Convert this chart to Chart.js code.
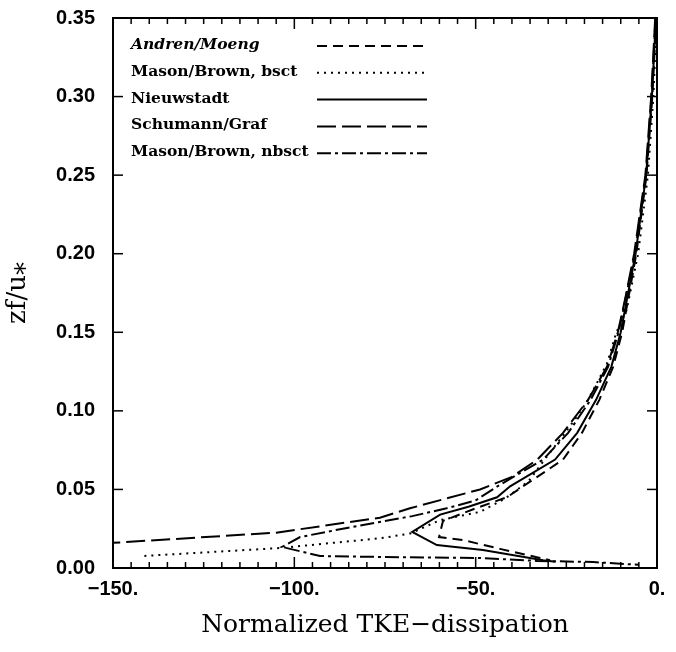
<!DOCTYPE html>
<html>
<head>
<meta charset="utf-8">
<script src="https://cdn.jsdelivr.net/npm/chart.js@4/dist/chart.umd.min.js"></script>
<style>
  html, body { margin: 0; padding: 0; background: #fff; }
  #c { display: block; }
</style>
</head>
<body>
<canvas id="c" width="676" height="652"></canvas>
<script>
// ---- data (x = normalized TKE-dissipation, y = zf/u*) ----
const seriesLabels = ['Andren/Moeng', 'Mason/Brown, bsct', 'Nieuwstadt', 'Schumann/Graf', 'Mason/Brown, nbsct'];

const andrenX = [-0.2, -1.3, -2.9, -5.7, -9.6, -12.1, -15.9, -20.7, -25.9, -36.9, -41.4, -50, -59, -60.1, -53.5, -43, -32.3, -29.5];
const andrenY = [0.35, 0.30, 0.25, 0.20, 0.15, 0.128, 0.107, 0.086, 0.069, 0.052, 0.045, 0.038, 0.030, 0.0197, 0.0178, 0.012, 0.0064, 0.005];

const masonBsctX = [-0.1, -1.0, -2.5, -5.2, -8.4, -11.2, -13.8, -19.0, -22.5, -26, -31, -35.5, -42, -48.8, -59.8, -68, -76, -104, -142];
const masonBsctY = [0.35, 0.30, 0.25, 0.20, 0.164, 0.15, 0.13, 0.107, 0.095, 0.084, 0.069, 0.055, 0.044, 0.0357, 0.0305, 0.022, 0.019, 0.0127, 0.0076];

const nieuwX = [-0.3, -1.4, -3.0, -5.9, -10.0, -12.6, -16.8, -22.0, -28.1, -40.5, -44.1, -52, -59.8, -67.5, -60.7, -48, -31.4, -28];
const nieuwY = [0.35, 0.30, 0.25, 0.20, 0.15, 0.128, 0.107, 0.086, 0.069, 0.052, 0.045, 0.039, 0.034, 0.023, 0.0146, 0.0115, 0.005, 0.004];

const schumX = [-0.5, -1.6, -3.2, -6.3, -8.8, -10.8, -13.8, -19.0, -25.9, -33, -40, -48.8, -68.1, -76.4, -105, -150];
const schumY = [0.35, 0.30, 0.25, 0.20, 0.171, 0.15, 0.128, 0.107, 0.086, 0.069, 0.058, 0.050, 0.038, 0.032, 0.0225, 0.016];

const masonNbsctX = [-0.4, -1.5, -3.1, -6.1, -10.6, -13.5, -18.3, -24.5, -31.4, -44, -50, -58, -67.5, -85.5, -98.4, -103.4, -92.9, -70, -48.8, -33, -17.6, -5];
const masonNbsctY = [0.35, 0.30, 0.25, 0.20, 0.15, 0.128, 0.107, 0.086, 0.069, 0.052, 0.043, 0.038, 0.033, 0.0255, 0.0197, 0.0134, 0.0076, 0.0068, 0.0064, 0.0045, 0.0038, 0.002];

const xTickValues = [-150, -100, -50, 0];
const xTickLabels = ['\u2212150.', '\u2212100.', '\u221250.', '0.'];
const yTickValues = [0, 0.05, 0.10, 0.15, 0.20, 0.25, 0.30, 0.35];
const yTickLabels = ['0.00', '0.05', '0.10', '0.15', '0.20', '0.25', '0.30', '0.35'];
const xTitle = 'Normalized TKE\u2212dissipation';
const yTitle = 'zf/u\u204E';

// ---- build datasets ----
const pts = (xs, ys) => xs.map((x, i) => ({ x: x, y: ys[i] }));
const dashes = [[10, 6], [2, 5], [], [19, 6], [14, 4, 3, 4]];
const seriesData = [
  pts(andrenX, andrenY),
  pts(masonBsctX, masonBsctY),
  pts(nieuwX, nieuwY),
  pts(schumX, schumY),
  pts(masonNbsctX, masonNbsctY)
];
const datasets = seriesData.map((d, i) => ({
  label: seriesLabels[i],
  data: d,
  showLine: true,
  borderColor: '#000',
  backgroundColor: '#000',
  borderWidth: 2,
  borderDash: dashes[i],
  pointRadius: 0,
  tension: 0,
  fill: false
}));

// ---- frame, inward ticks and in-plot legend ----
const framePlugin = {
  id: 'frame',
  afterDraw(chart) {
    const { ctx, chartArea: a, scales } = chart;
    const xs = scales.x, ys = scales.y;
    ctx.save();
    ctx.strokeStyle = '#000';
    ctx.lineWidth = 2;
    ctx.setLineDash([]);
    ctx.strokeRect(a.left, a.top, a.right - a.left, a.bottom - a.top);
    ctx.lineWidth = 1.5;
    const seg = (x1, y1, x2, y2) => { ctx.beginPath(); ctx.moveTo(x1, y1); ctx.lineTo(x2, y2); ctx.stroke(); };
    for (let v = -150; v <= 0; v += 5) {
      const p = xs.getPixelForValue(v);
      const L = (v % 50 === 0) ? 11 : 6;
      seg(p, a.bottom, p, a.bottom - L);
      seg(p, a.top, p, a.top + L);
    }
    yTickValues.forEach(v => {
      const p = ys.getPixelForValue(v);
      seg(a.left, p, a.left + 10, p);
      seg(a.right, p, a.right - 10, p);
    });
    // legend
    const rowY0 = a.top + 27, rowStep = 26.8;
    const textX = a.left + 18, lineX1 = a.left + 204, lineX2 = a.left + 314;
    chart.data.datasets.forEach((ds, i) => {
      const yy = rowY0 + i * rowStep;
      ctx.fillStyle = '#000';
      ctx.font = (i === 0 ? 'italic ' : '') + 'bold 15.5px "DejaVu Serif"';
      ctx.textAlign = 'left';
      ctx.textBaseline = 'middle';
      ctx.fillText(ds.label, textX, yy);
      ctx.lineWidth = 2;
      ctx.setLineDash(ds.borderDash);
      seg(lineX1, yy + 1, lineX2, yy + 1);
    });
    ctx.restore();
  }
};

const tickFont = { family: '"Liberation Sans", Arial, sans-serif', size: 20, weight: 'bold' };

new Chart(document.getElementById('c'), {
  type: 'scatter',
  data: { datasets: datasets },
  options: {
    responsive: false,
    animation: false,
    devicePixelRatio: 1,
    layout: { padding: { top: 18, right: 19, left: 0, bottom: 0 } },
    plugins: { legend: { display: false }, tooltip: { enabled: false } },
    scales: {
      x: {
        type: 'linear', min: -150, max: 0,
        afterBuildTicks: s => { s.ticks = xTickValues.map(v => ({ value: v })); },
        ticks: {
          color: '#000', font: tickFont, padding: 9, maxRotation: 0, autoSkip: false,
          callback: (v, i) => xTickLabels[xTickValues.indexOf(v)]
        },
        grid: { display: false, drawTicks: false },
        border: { display: false },
        title: {
          display: true, text: xTitle, color: '#000',
          font: { family: '"DejaVu Serif", serif', size: 25 },
          padding: { top: 0, bottom: 12 }
        },
        afterFit: s => { s.height = 84; s.paddingLeft = 0; s.paddingRight = 0; }
      },
      y: {
        type: 'linear', min: 0, max: 0.35,
        afterBuildTicks: s => { s.ticks = yTickValues.map(v => ({ value: v })); },
        ticks: {
          color: '#000', font: tickFont, padding: 18, autoSkip: false,
          callback: (v) => yTickLabels[yTickValues.findIndex(t => Math.abs(t - v) < 1e-9)]
        },
        grid: { display: false, drawTicks: false },
        border: { display: false },
        title: {
          display: true, text: yTitle, color: '#000',
          font: { family: '"DejaVu Serif", serif', size: 26 },
          padding: { top: 3, bottom: 0 }
        },
        afterFit: s => { s.width = 113; s.paddingTop = 0; s.paddingBottom = 0; }
      }
    }
  },
  plugins: [framePlugin]
});
</script>
</body>
</html>
